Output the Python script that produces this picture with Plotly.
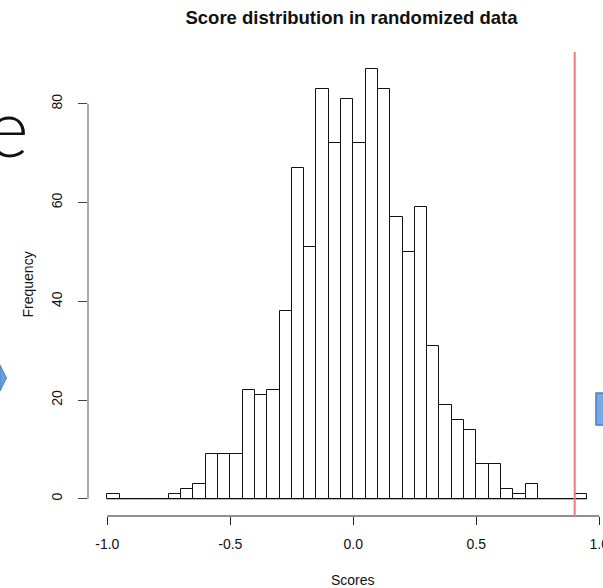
import plotly.graph_objects as go

# ---- data ----
bin_lefts = [-1.00, -0.95, -0.90, -0.85, -0.80, -0.75, -0.70, -0.65, -0.60, -0.55,
             -0.50, -0.45, -0.40, -0.35, -0.30, -0.25, -0.20, -0.15, -0.10, -0.05,
             0.00, 0.05, 0.10, 0.15, 0.20, 0.25, 0.30, 0.35, 0.40, 0.45,
             0.50, 0.55, 0.60, 0.65, 0.70, 0.75, 0.80, 0.85, 0.90]
bin_width = 0.05
counts = [1, 0, 0, 0, 0, 1, 2, 3, 9, 9,
          9, 22, 21, 22, 38, 67, 51, 83, 72, 81,
          72, 87, 83, 57, 50, 59, 31, 19, 16, 14,
          7, 7, 2, 1, 3, 0, 0, 0, 1]
threshold = 0.9
x_ticks = [-1.0, -0.5, 0.0, 0.5, 1.0]
x_tick_labels = ["-1.0", "-0.5", "0.0", "0.5", "1.0"]
y_ticks = [0, 20, 40, 60, 80]
y_tick_labels = ["0", "20", "40", "60", "80"]

FONT = "Liberation Sans, Arial, Helvetica, sans-serif"
W, H = 603, 588
ML, MR, MT, MB = 88, 0, 52, 72
PW, PH = W - ML - MR, H - MT - MB


def px(xp):
    return (xp - ML) / PW


def py(yp):
    return (H - MB - yp) / PH


fig = go.Figure()
fig.add_trace(go.Bar(
    x=bin_lefts, y=counts, width=bin_width, offset=0,
    marker=dict(color="white", line=dict(color="#111111", width=1)),
    hoverinfo="x+y",
))

shapes = [
    # baseline of histogram
    dict(type="line", xref="x", yref="y", x0=bin_lefts[0], x1=bin_lefts[-1] + bin_width,
         y0=0, y1=0, line=dict(color="#111111", width=1)),
    # x axis line (first to last tick)
    dict(type="line", xref="x", yref="paper", x0=x_ticks[0], x1=x_ticks[-1], y0=0, y1=0,
         line=dict(color="#222222", width=1)),
    # y axis line (first to last tick)
    dict(type="line", xref="paper", yref="y", x0=0, x1=0, y0=y_ticks[0], y1=y_ticks[-1],
         line=dict(color="#555555", width=1)),
    # threshold line
    dict(type="line", xref="x", yref="paper", x0=threshold, x1=threshold, y0=0, y1=1,
         line=dict(color="rgb(245,120,120)", width=2)),
    # decorative blue arrow tip at left edge
    dict(type="path", xref="paper", yref="paper",
         path=f"M {px(0)} {py(365)} L {px(6.5)} {py(378)} L {px(0)} {py(391)} Z",
         fillcolor="#6a9fdc", line=dict(color="#4d80c4", width=1)),
    # decorative blue box at right edge
    dict(type="rect", xref="paper", yref="paper",
         x0=px(596), x1=px(606), y0=py(425), y1=py(393),
         fillcolor="#79a9e4", line=dict(color="#4a7cc0", width=1.5)),
]

annotations = [
    dict(text="Scores", xref="paper", yref="paper", x=px(353), y=py(580),
         xanchor="center", yanchor="middle", showarrow=False,
         font=dict(family=FONT, size=14, color="#111111")),
    dict(text="Frequency", xref="paper", yref="paper", x=px(27), y=py(284.5),
         xanchor="center", yanchor="middle", textangle=-90, showarrow=False,
         font=dict(family=FONT, size=14, color="#111111")),
    dict(text="e", xref="paper", yref="paper", x=px(31), y=py(126),
         xanchor="right", yanchor="middle", showarrow=False,
         font=dict(family="Lato, Open Sans, sans-serif", size=80, color="#111111",
                   weight=300)),
]

fig.update_layout(
    width=W, height=H, autosize=False,
    margin=dict(l=ML, r=MR, t=MT, b=MB, pad=0, autoexpand=False),
    paper_bgcolor="white", plot_bgcolor="white",
    showlegend=False, bargap=0,
    title=dict(text="<b>Score distribution in randomized data</b>",
               xref="paper", x=px(351.5), xanchor="center",
               yref="container", y=1 - 17.5 / H, yanchor="middle",
               font=dict(family=FONT, size=18.5, color="#111111")),
    xaxis=dict(range=[-1.0785, 1.015], showgrid=False, zeroline=False, showline=False,
               automargin=False,
               ticks="outside", ticklen=8, tickwidth=1, tickcolor="#222222",
               tickmode="array", tickvals=x_ticks, ticktext=x_tick_labels,
               tickfont=dict(family=FONT, size=14, color="#111111"),
               ticklabelstandoff=7, ticklabeloverflow="allow", fixedrange=True),
    yaxis=dict(range=[-3.48, 90.48], showgrid=False, zeroline=False, showline=False,
               automargin=False,
               ticks="outside", ticklen=9, tickwidth=1, tickcolor="#444444",
               tickmode="array", tickvals=y_ticks, ticktext=y_tick_labels, tickangle=-90,
               tickfont=dict(family=FONT, size=14, color="#111111"),
               ticklabelstandoff=10, fixedrange=True),
    shapes=shapes,
    annotations=annotations,
)

fig.write_html(
    "out.html",
    config={"displayModeBar": False},
    post_script="document.body.style.margin='0';document.body.style.padding='0';"
                "document.body.style.overflow='hidden';",
)
